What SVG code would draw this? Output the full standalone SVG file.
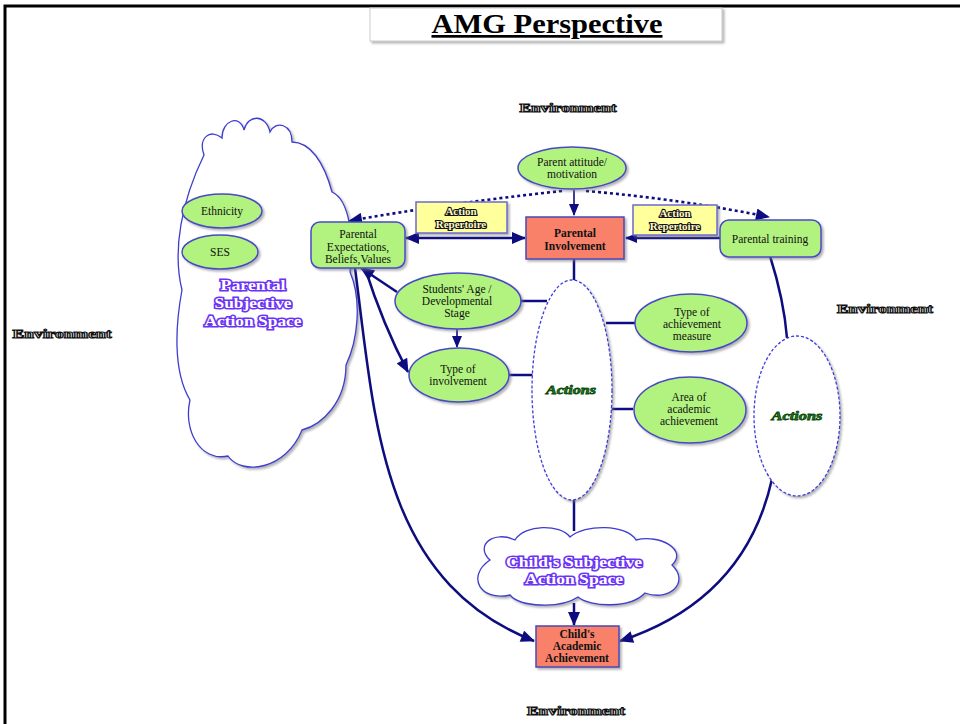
<svg xmlns="http://www.w3.org/2000/svg" width="960" height="724" viewBox="0 0 960 724">
  <defs>
    <filter id="shadow" x="-20%" y="-20%" width="150%" height="150%">
      <feDropShadow dx="2" dy="2" stdDeviation="1.2" flood-color="#777" flood-opacity="0.55"/>
    </filter>
    <marker id="arrow" viewBox="0 0 12 10" refX="11" refY="5" markerWidth="12" markerHeight="10" markerUnits="userSpaceOnUse" orient="auto-start-reverse">
      <path d="M0,0 L12,5 L0,10 Z" fill="#0d0d80"/>
    </marker>
    <marker id="arrowL" viewBox="0 0 14 12" refX="13" refY="6" markerWidth="15" markerHeight="12" markerUnits="userSpaceOnUse" orient="auto-start-reverse">
      <path d="M0,0 L14,6 L0,12 Z" fill="#0d0d80"/>
    </marker>
  </defs>
  <style>
    .node-text { font-family: "Liberation Serif", "DejaVu Serif", serif; font-size: 11.5px; fill: #111; text-anchor: middle; }
    .bold-text { font-family: "Liberation Serif", "DejaVu Serif", serif; font-size: 11.5px; font-weight: bold; fill: #111; text-anchor: middle; }
    .env { font-family: "Liberation Serif", "DejaVu Serif", serif; font-size: 13px; font-weight: bold; fill: #fff; stroke: #111; stroke-width: 1.1; text-anchor: middle; }
    .space { font-family: "Liberation Serif", "DejaVu Serif", serif; font-size: 15px; font-weight: bold; fill: #fff; stroke: #6a33f5; stroke-width: 3; paint-order: stroke; text-anchor: middle; }
    .rep { font-family: "Liberation Serif", "DejaVu Serif", serif; font-size: 11px; font-weight: bold; fill: #fff9c8; stroke: #111; stroke-width: 2.2; paint-order: stroke; text-anchor: middle; }
    .actions { font-family: "Liberation Serif", "DejaVu Serif", serif; font-size: 13px; font-weight: bold; font-style: italic; fill: #1d7a1d; stroke: #0c4a0c; stroke-width: 0.8; text-anchor: middle; }
    .green { fill: #b2f27f; stroke: #4848c8; stroke-width: 1.5; }
    .salmon { fill: #f98069; stroke: #4848b8; stroke-width: 1.5; }
    .yellow { fill: #ffff9c; stroke: #6a6ad0; stroke-width: 1.5; }
    .dashed-oval { fill: #fff; stroke: #3b3be0; stroke-width: 1.3; stroke-dasharray: 3 2; }
    .cloud { fill: #fff; stroke: #3d3dd0; stroke-width: 1.3; }
    .link { fill: none; stroke: #0d0d80; stroke-width: 2.5; }
    .thin { stroke-width: 1.6; }
    .dots { fill: none; stroke: #0d0d80; stroke-width: 2.6; stroke-dasharray: 3 3; }
  </style>

  <!-- page frame -->
  <rect width="960" height="724" fill="#fff"/>
  <path d="M5,724 L5,6 L960,6" fill="none" stroke="#000" stroke-width="3"/>

  <!-- title -->
  <g id="title">
    <rect x="370" y="8" width="352" height="33" fill="#fff" stroke="#ccc" stroke-width="1" filter="url(#shadow)"/>
    <text x="547" y="33" font-family="'Liberation Serif', 'DejaVu Serif', serif" font-size="27" font-weight="bold" text-anchor="middle" text-decoration="underline" textLength="231" lengthAdjust="spacingAndGlyphs">AMG Perspective</text>
  </g>

  <!-- environment labels -->
  <g id="environment-labels">
    <text class="env" x="568" y="112" textLength="97" lengthAdjust="spacingAndGlyphs">Environment</text>
    <text class="env" x="62" y="338" textLength="99" lengthAdjust="spacingAndGlyphs">Environment</text>
    <text class="env" x="885" y="313" textLength="96" lengthAdjust="spacingAndGlyphs">Environment</text>
    <text class="env" x="576" y="715" textLength="98" lengthAdjust="spacingAndGlyphs">Environment</text>
  </g>

  <!-- parental subjective action space cloud -->
  <g id="parental-action-space">
    <path class="cloud" filter="url(#shadow)" d="M204,155 C198,138 210,128 222,138 C222,120 240,114 244,130 C248,114 266,114 270,132 C276,120 292,124 292,142 C310,142 324,162 332,192 C350,200 354,240 350,272 C362,300 358,340 346,365 C346,402 322,425 302,430 C286,470 242,476 228,456 C200,462 183,430 190,400 C172,370 176,322 182,290 C172,250 182,200 204,155 Z"/>
    <text class="space" x="253" y="290" textLength="65" lengthAdjust="spacingAndGlyphs">Parental</text>
    <text class="space" x="253" y="308" textLength="77" lengthAdjust="spacingAndGlyphs">Subjective</text>
    <text class="space" x="253" y="326" textLength="97" lengthAdjust="spacingAndGlyphs">Action Space</text>
  </g>

  <g id="ethnicity">
    <ellipse class="green" cx="222" cy="211" rx="40" ry="17" filter="url(#shadow)"/>
    <text class="node-text" x="222" y="215">Ethnicity</text>
  </g>
  <g id="ses">
    <ellipse class="green" cx="220" cy="252" rx="38" ry="17" filter="url(#shadow)"/>
    <text class="node-text" x="220" y="256">SES</text>
  </g>

  <!-- child's subjective action space cloud -->
  <g id="child-action-space">
    <path class="cloud" filter="url(#shadow)" d="M490,560 C474,545 494,530 515,540 C525,524 560,524 570,537 C585,524 626,524 636,540 C660,534 688,550 672,565 C690,582 670,602 645,593 C630,609 590,607 578,597 C560,609 520,607 510,595 C480,602 466,576 490,560 Z"/>
    <text class="space" x="574" y="567" font-size="14" textLength="136" lengthAdjust="spacingAndGlyphs">Child's Subjective</text>
    <text class="space" x="574" y="584" font-size="14" textLength="98" lengthAdjust="spacingAndGlyphs">Action Space</text>
  </g>

  <!-- connectors -->
  <g id="connectors">
    <path class="dots" d="M562,191 Q450,203 349,221" marker-end="url(#arrowL)"/>
    <path class="dots" d="M586,191 Q680,199 769,217" marker-end="url(#arrowL)"/>
    <path class="link thin" d="M574,190 L574,215" marker-end="url(#arrow)"/>
    <path class="link" d="M406,238 L525,238" marker-start="url(#arrowL)" marker-end="url(#arrowL)"/>
    <path class="link" stroke-width="2" d="M720,238 L626,238" marker-end="url(#arrow)"/>
    <path class="link" d="M574,259 L574,280"/>
    <path class="link" d="M574,500 L574,531"/>
    <path class="link" d="M574,603 L574,625" marker-end="url(#arrowL)"/>
    <path class="link" stroke-width="2" d="M521,301 L547,301"/>
    <path class="link thin" d="M457,329 L457,347" marker-end="url(#arrow)"/>
    <path class="link" stroke-width="3" d="M508,375 L533,375"/>
    <path class="link" stroke-width="3" d="M606,323 L635,323"/>
    <path class="link" stroke-width="2" d="M611,409 L633,409"/>
    <path class="link" stroke-width="2" d="M397,292 L361,268" marker-end="url(#arrowL)"/>
    <path class="link" stroke-width="2" d="M365,268 Q383,325 408,372" marker-end="url(#arrowL)"/>
    <path class="link" stroke-width="2.8" d="M355,268 C375,420 380,580 534,641" marker-end="url(#arrowL)"/>
    <path class="link" stroke-width="2.8" d="M770,256 Q784,300 787,338"/>
    <path class="link" stroke-width="2.8" d="M772,479 Q745,600 620,641" marker-end="url(#arrowL)"/>
  </g>

  <!-- nodes -->
  <g id="parent-attitude">
    <ellipse class="green" cx="572" cy="168" rx="54" ry="21" filter="url(#shadow)"/>
    <text class="node-text" x="572" y="166">Parent attitude/</text>
    <text class="node-text" x="572" y="178">motivation</text>
  </g>

  <g id="action-repertoire-left">
    <rect class="yellow" x="416" y="202" width="91" height="31" filter="url(#shadow)"/>
    <text class="rep" x="461" y="215">Action</text>
    <text class="rep" x="461" y="228">Repertoire</text>
  </g>

  <g id="action-repertoire-right">
    <rect class="yellow" x="633" y="205" width="84" height="30" filter="url(#shadow)"/>
    <text class="rep" x="675" y="217">Action</text>
    <text class="rep" x="675" y="230">Repertoire</text>
  </g>

  <g id="parental-involvement">
    <rect class="salmon" x="526" y="217" width="98" height="42" filter="url(#shadow)"/>
    <text class="bold-text" x="575" y="237">Parental</text>
    <text class="bold-text" x="575" y="250">Involvement</text>
  </g>

  <g id="parental-expectations">
    <rect class="green" x="311" y="222" width="94" height="46" rx="9" filter="url(#shadow)"/>
    <text class="node-text" x="358" y="238">Parental</text>
    <text class="node-text" x="358" y="251">Expectations,</text>
    <text class="node-text" x="358" y="263">Beliefs,Values</text>
  </g>

  <g id="parental-training">
    <rect class="green" x="720" y="220" width="101" height="37" rx="9" filter="url(#shadow)"/>
    <text class="node-text" x="770" y="243">Parental training</text>
  </g>

  <g id="students-age">
    <ellipse class="green" cx="458" cy="301" rx="63" ry="28" filter="url(#shadow)"/>
    <text class="node-text" x="457" y="293">Students' Age /</text>
    <text class="node-text" x="457" y="305">Developmental</text>
    <text class="node-text" x="457" y="317">Stage</text>
  </g>

  <g id="type-of-involvement">
    <ellipse class="green" cx="459" cy="375" rx="50" ry="27" filter="url(#shadow)"/>
    <text class="node-text" x="458" y="373">Type of</text>
    <text class="node-text" x="458" y="385">involvement</text>
  </g>

  <g id="actions-center">
    <ellipse class="dashed-oval" cx="572" cy="390" rx="40" ry="110" filter="url(#shadow)"/>
    <text class="actions" x="571" y="394" textLength="50" lengthAdjust="spacingAndGlyphs">Actions</text>
  </g>

  <g id="type-of-achievement-measure">
    <ellipse class="green" cx="691" cy="323" rx="56" ry="29" filter="url(#shadow)"/>
    <text class="node-text" x="692" y="316">Type of</text>
    <text class="node-text" x="692" y="328">achievement</text>
    <text class="node-text" x="692" y="340">measure</text>
  </g>

  <g id="area-of-academic-achievement">
    <ellipse class="green" cx="690" cy="410" rx="56" ry="33" filter="url(#shadow)"/>
    <text class="node-text" x="689" y="401">Area of</text>
    <text class="node-text" x="689" y="413">academic</text>
    <text class="node-text" x="689" y="425">achievement</text>
  </g>

  <g id="actions-right">
    <ellipse class="dashed-oval" cx="797" cy="416" rx="43" ry="80" filter="url(#shadow)"/>
    <text class="actions" x="797" y="420" textLength="51" lengthAdjust="spacingAndGlyphs">Actions</text>
  </g>

  <g id="childs-academic-achievement">
    <rect class="salmon" x="536" y="626" width="83" height="41" filter="url(#shadow)"/>
    <text class="bold-text" x="577" y="638">Child's</text>
    <text class="bold-text" x="577" y="650">Academic</text>
    <text class="bold-text" x="577" y="662">Achievement</text>
  </g>
</svg>
